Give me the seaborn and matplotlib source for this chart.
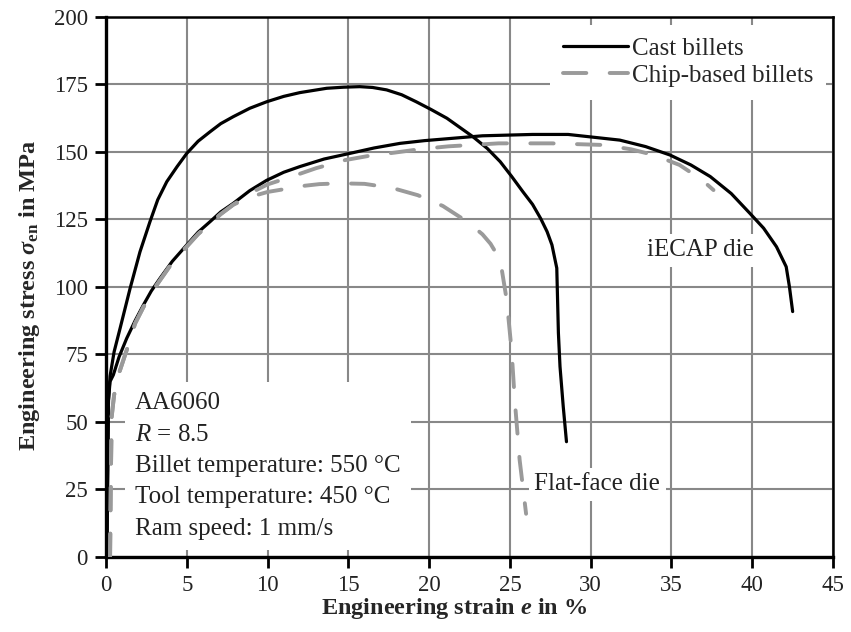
import pandas as pd
import matplotlib
matplotlib.use("Agg")
import matplotlib.pyplot as plt
import seaborn as sns

cast_flat_x = [0.05, 0.1, 0.15, 0.25, 0.5, 0.87, 1.49, 2.10, 2.72, 3.2, 3.76, 4.4, 5.0, 5.7,
               6.44, 7.1, 7.88, 8.9, 9.94, 11.0, 12.0, 13.66, 14.7, 15.7, 16.5, 17.37, 18.3,
               19.2, 20.1, 21.1, 22.7, 23.6, 24.4, 25.1, 25.8, 26.4, 26.9, 27.3, 27.6, 27.9,
               27.95, 28.0, 28.1, 28.3, 28.5]
cast_flat_y = [0, 30, 58, 67, 76, 84.7, 99.5, 113, 124.2, 132.3, 139, 144.6, 149.5, 154,
               157.5, 160.5, 163.1, 166.2, 168.6, 170.6, 172, 173.6, 174, 174.2, 173.9, 173,
               171.2, 168.6, 165.8, 162.5, 155.7, 151.3, 146.4, 141, 135.3, 130.6, 125.4,
               120.5, 115.6, 107, 95, 83, 70.5, 55.7, 42.7]

cast_ecap_x = [0.05, 0.1, 0.15, 0.25, 0.45, 0.8, 1.28, 1.8, 2.31, 2.8, 3.34, 4.1, 5.0, 5.7,
               6.44, 7.1, 7.88, 8.9, 9.94, 11.0, 12.0, 13.5, 15.1, 16.6, 18.2, 19.7, 21.3, 23.3,
               26.4, 28.6, 31.8, 33.4, 34.9, 36.2, 37.4, 38.7, 39.85, 40.7, 41.5, 42.1, 42.3,
               42.5]
cast_ecap_y = [0, 30, 58, 65, 67.4, 74, 81, 87.5, 93.3, 98.5, 103.2, 109.5, 115.6, 120.3,
               124.2, 127.8, 131, 135.7, 139.5, 142.5, 144.6, 147.4, 149.5, 151.5, 153.2, 154.2,
               155, 156, 156.5, 156.5, 154.4, 152, 148.9, 145.2, 140.9, 134.6, 127.3, 121.8,
               114.9, 107.5, 100.1, 90.9]

chip_flat_x = [0.25, 0.3, 0.35, 0.5, 0.8, 1.3, 1.8, 2.31, 2.8, 3.34, 4.1, 5.0, 5.7, 6.44,
               7.1, 7.88, 9.0, 10.0, 11.3, 12.0, 13.2, 14.5, 16.0, 17.7, 19.3, 20.85, 22.4,
               23.3, 23.8, 24.4, 24.8, 25.1, 25.3, 25.6, 26.0]
chip_flat_y = [0, 30, 52, 60, 68, 77, 86.5, 92.5, 97.8, 102.5, 109, 115, 119.6, 123.5,
               127, 130.5, 133.5, 135.2, 136.5, 137.3, 138.1, 138.4, 138.2, 136.7, 134, 130,
               124, 119.5, 116, 110, 95.2, 76.7, 58, 36, 16]

chip_ecap_x = [0.25, 0.3, 0.35, 0.5, 0.8, 1.3, 1.8, 2.31, 2.8, 3.34, 4.1, 5.0, 5.7, 6.44,
               7.1, 7.88, 9.0, 10.0, 11.5, 13.0, 14.8, 16.3, 17.9, 19.5, 21.2, 24.3, 27.6,
               30.8, 32.5, 33.9, 35.5, 36.9, 37.6]
chip_ecap_y = [0, 30, 52, 60, 68, 77, 86.5, 92.5, 97.8, 102.5, 109, 115, 119.6, 123.5,
               127, 130.5, 135, 138, 140.9, 144, 147, 148.6, 149.8, 151.1, 152.1, 153.2, 153.2,
               152.6, 151, 148.9, 145.2, 139.6, 135.9]

x_ticks = [0, 5, 10, 15, 20, 25, 30, 35, 40, 45]
y_ticks = [0, 25, 50, 75, 100, 125, 150, 175, 200]

info_lines = ["AA6060", r"$\mathsf{R}$ = 8.5", "Billet temperature: 550 °C",
              "Tool temperature: 450 °C", "Ram speed: 1 mm/s"]

curves = [("Cast billets", "Flat-face die", cast_flat_x, cast_flat_y),
          ("Cast billets", "iECAP die", cast_ecap_x, cast_ecap_y),
          ("Chip-based billets", "Flat-face die", chip_flat_x, chip_flat_y),
          ("Chip-based billets", "iECAP die", chip_ecap_x, chip_ecap_y)]
rows = []
for billet, die, xs, ys in curves:
    for x, y in zip(xs, ys):
        rows.append({"billet": billet, "die": die, "strain": x, "stress": y})
df = pd.DataFrame(rows)

sns.set_theme(style="ticks")
plt.rcParams["font.family"] = ["Liberation Serif", "DejaVu Serif"]
plt.rcParams["mathtext.fontset"] = "custom"
plt.rcParams["mathtext.rm"] = "Liberation Serif:bold"
plt.rcParams["mathtext.it"] = "Liberation Serif:italic:bold"
plt.rcParams["mathtext.bf"] = "Liberation Serif:bold"
plt.rcParams["mathtext.sf"] = "Liberation Serif:italic"
plt.rcParams["lines.solid_joinstyle"] = "round"
plt.rcParams["lines.dash_capstyle"] = "round"

fig, ax = plt.subplots(figsize=(8.51, 6.32), dpi=100)
fig.subplots_adjust(left=0.1246, right=0.9789, bottom=0.1187, top=0.9731)

sns.lineplot(data=df, x="strain", y="stress", hue="billet", style="billet", size="billet",
             units="die", estimator=None, sort=False, ax=ax,
             hue_order=["Cast billets", "Chip-based billets"],
             palette={"Cast billets": "black", "Chip-based billets": "#9a9a9a"},
             dashes={"Cast billets": "", "Chip-based billets": (6, 6)},
             sizes={"Cast billets": 2.3, "Chip-based billets": 2.8}, zorder=3)

ax.set_xlim(0, 45)
ax.set_ylim(0, 200)
ax.set_xticks(x_ticks)
ax.set_yticks(y_ticks)
ax.grid(True, color="#888888", linewidth=1.5)
ax.set_axisbelow(True)

for side in ["top", "right"]:
    ax.spines[side].set_linewidth(1.8)
for side in ["left", "bottom"]:
    ax.spines[side].set_linewidth(2.4)
for sp in ax.spines.values():
    sp.set_color("black")
ax.tick_params(direction="out", length=8, width=2, color="black", labelsize=16.5,
               labelcolor="#222222", pad=5)
ax.tick_params(top=False, right=False)

ax.set_xlabel(r"Engineering strain $e$ in %", fontsize=17.5, fontweight="bold")
ax.set_ylabel(r"Engineering stress $\sigma_{\mathrm{en}}$ in MPa", fontsize=17.5,
              fontweight="bold")
ax.xaxis.set_label_coords(0.479, -0.073)
ax.yaxis.set_label_coords(-0.088, 0.485)

box = dict(facecolor="white", edgecolor="none", pad=4)
ax.text(36.8, 113.7, "iECAP die", fontsize=18, ha="center", va="center", color="#222222",
        bbox=box, zorder=2)
ax.text(30.4, 27, "Flat-face die", fontsize=18, ha="center", va="center", color="#222222",
        bbox=box, zorder=2)
ax.text(1.8, 61, "\n".join(info_lines), fontsize=18, ha="left", va="top", color="#222222",
        linespacing=1.55, zorder=2,
        bbox=dict(facecolor="white", edgecolor="none", boxstyle="square,pad=0.4"))

sns.move_legend(ax, "upper right", title=None, frameon=True, fancybox=False,
                facecolor="white", edgecolor="none", framealpha=1, fontsize=18,
                handlelength=2.6, handletextpad=0.15, labelspacing=0.2,
                borderaxespad=0.3, borderpad=0.5)

plt.savefig("out.png", dpi=100)
